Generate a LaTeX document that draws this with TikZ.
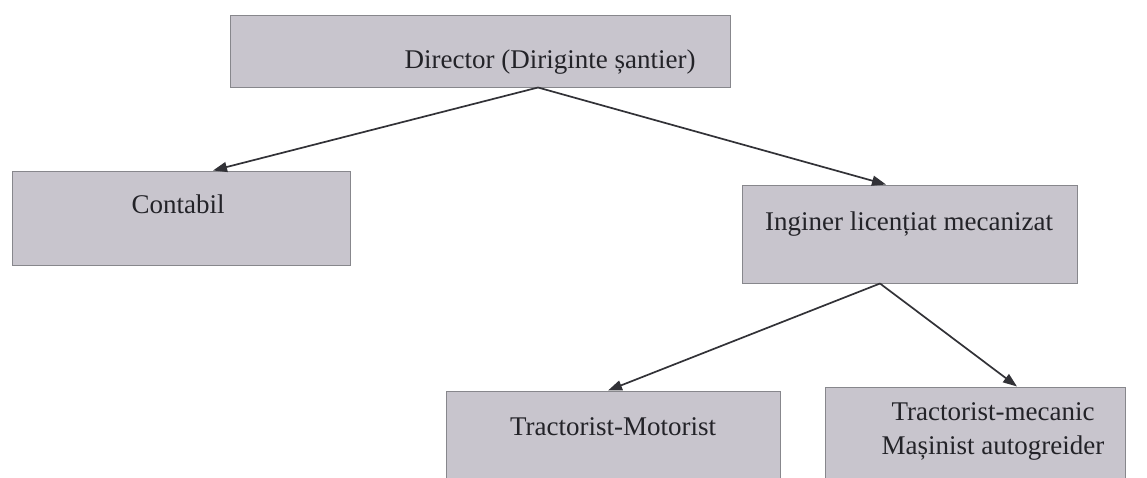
\documentclass[tikz,border=0pt]{standalone}
\usepackage{fontspec}
\setmainfont{Liberation Serif}
\usetikzlibrary{arrows.meta}
\definecolor{boxfill}{RGB}{200,197,205}
\definecolor{boxline}{RGB}{135,135,140}
\definecolor{txtcol}{RGB}{35,35,40}
\definecolor{arrcol}{RGB}{50,50,55}
\begin{document}
\begin{tikzpicture}[x=1pt,y=-1pt,
  orgbox/.style={draw=boxline,fill=boxfill,line width=1pt,inner sep=0pt,rectangle},
  lbl/.style={text=txtcol,font=\fontsize{27}{34}\selectfont,inner sep=0pt,align=center},
  arr/.style={draw=arrcol,line width=1.7pt,-{Triangle[length=14pt,width=10pt]}}]
\useasboundingbox (0,0) rectangle (1147,477);
\clip (0,0) rectangle (1147,477);
\fill[white] (0,0) rectangle (1147,477);
% boxes
\node[orgbox,minimum width=500pt,minimum height=72pt] (dir) at (480,51) {};
\node[orgbox,minimum width=338pt,minimum height=94pt] (cont) at (181,218) {};
\node[orgbox,minimum width=335pt,minimum height=98pt] (ing) at (909.5,234) {};
\node[orgbox,minimum width=334pt,minimum height=110pt] (tm) at (613,446) {};
\node[orgbox,minimum width=300pt,minimum height=114pt] (tmec) at (975,444) {};
% texts
\node[lbl,anchor=base] (tdir) at (550,68) {Director (Diriginte șantier)};
\node[lbl,anchor=base] (tcont) at (178,213) {Contabil};
\node[lbl,anchor=base] (ting) at (909,230) {Inginer licențiat mecanizat};
\node[lbl,anchor=base] (ttm) at (613,435) {Tractorist-Motorist};
\node[lbl,anchor=center] (ttmec) at (993,431) {Tractorist-mecanic\\Mașinist autogreider};
% connectors
\draw[arr] ([xshift=58pt]dir.south) -- ([xshift=32pt]cont.north);
\draw[arr] ([xshift=58pt]dir.south) -- ([xshift=-23.5pt]ing.north);
\draw[arr] ([xshift=-29.5pt]ing.south) -- ([xshift=-5pt]tm.north);
\draw[arr] ([xshift=-29.5pt]ing.south) -- ([xshift=42pt]tmec.north);
\end{tikzpicture}
\end{document}
